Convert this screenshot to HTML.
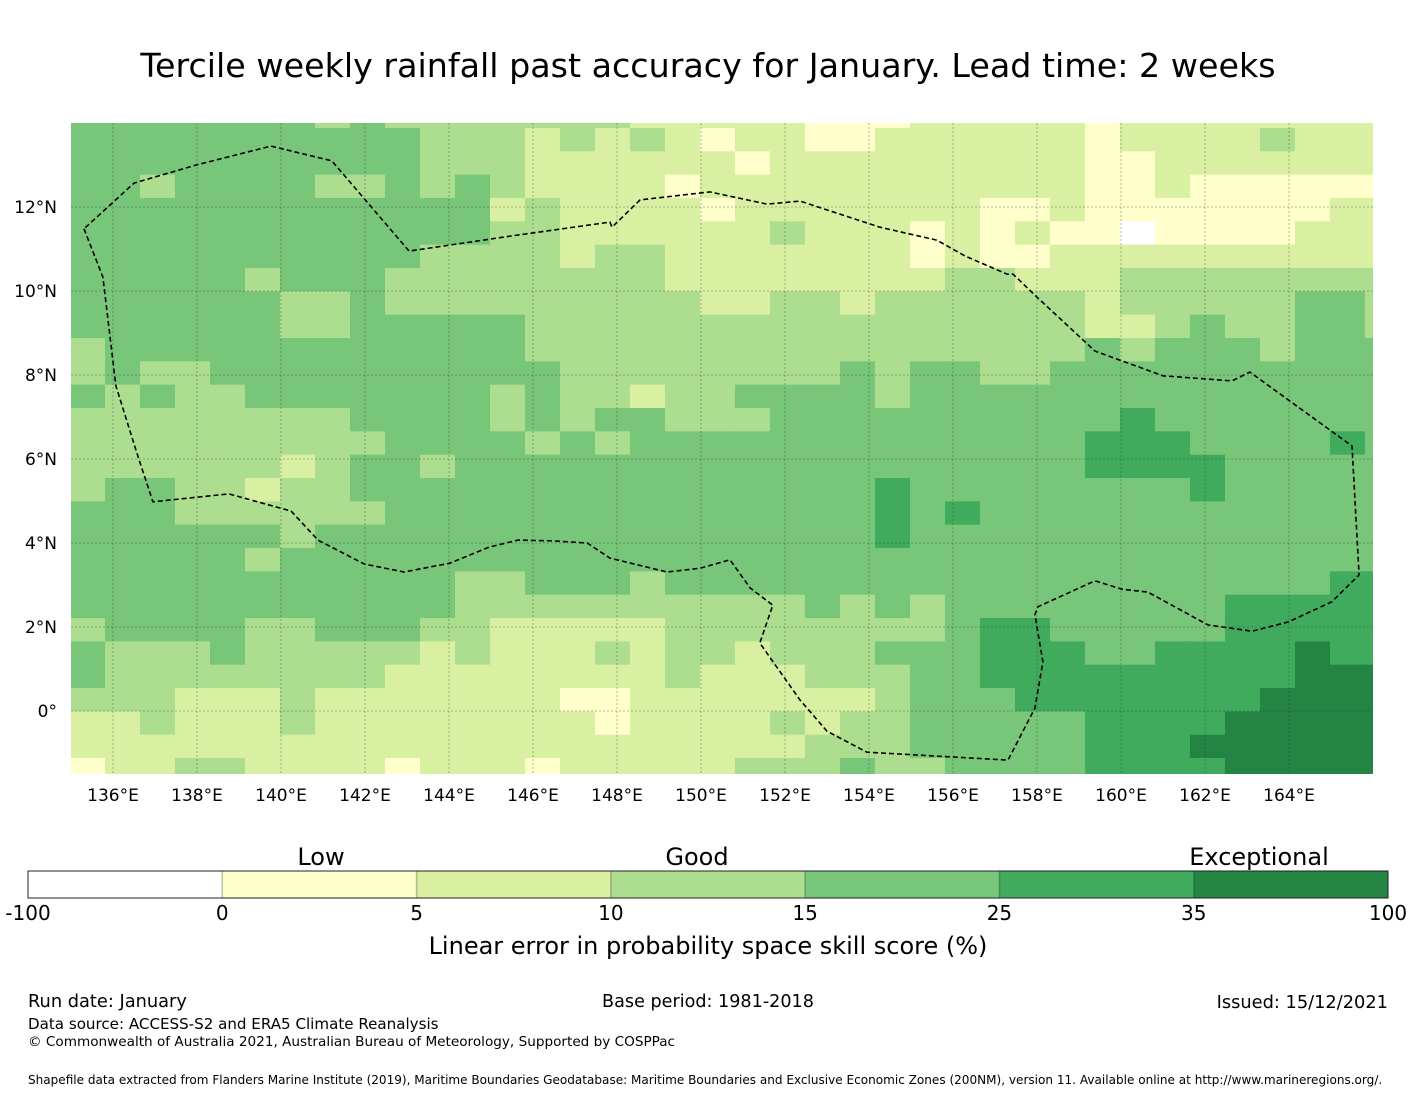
<!DOCTYPE html>
<html><head><meta charset="utf-8"><style>
html,body{margin:0;padding:0;background:#fff;}
svg{display:block;font-family:"DejaVu Sans","Liberation Sans",sans-serif;}
</style></head><body>
<svg id="chart" width="1416" height="1095" viewBox="0 0 1416 1095" xmlns="http://www.w3.org/2000/svg">
<rect width="1416" height="1095" fill="#fff"/>
<text x="708" y="77" font-size="33.3" text-anchor="middle" fill="#000">Tercile weekly rainfall past accuracy for January. Lead time: 2 weeks</text>
<defs><clipPath id="mapclip"><rect x="71" y="123" width="1302" height="651"/></clipPath></defs>
<g id="cells" clip-path="url(#mapclip)"></g>
<g id="grid" clip-path="url(#mapclip)"></g>
<g id="eez" clip-path="url(#mapclip)"></g>
<g id="xticks"></g>
<g id="yticks"></g>
<g id="cbar"></g>
<text x="321" y="865" font-size="24" text-anchor="middle">Low</text>
<text x="697" y="865" font-size="24" text-anchor="middle">Good</text>
<text x="1259" y="865" font-size="24" text-anchor="middle">Exceptional</text>
<text x="708" y="954" font-size="24" text-anchor="middle">Linear error in probability space skill score (%)</text>
<text x="28" y="1007" font-size="17.8">Run date: January</text>
<text x="708" y="1007" font-size="17.6" text-anchor="middle">Base period: 1981-2018</text>
<text x="1388" y="1008" font-size="17.8" text-anchor="end">Issued: 15/12/2021</text>
<text x="28" y="1029" font-size="15.1">Data source: ACCESS-S2 and ERA5 Climate Reanalysis</text>
<text x="28" y="1046" font-size="13.6">© Commonwealth of Australia 2021, Australian Bureau of Meteorology, Supported by COSPPac</text>
<text x="28" y="1084" font-size="12.05">Shapefile data extracted from Flanders Marine Institute (2019), Maritime Boundaries Geodatabase: Maritime Boundaries and Exclusive Economic Zones (200NM), version 11. Available online at http://www.marineregions.org/.</text>
</svg>
<script>
// skill category per grid cell (0..6), rows north->south, cols west->east
const skillRows = [
"44444443433333332222211122222122222222",
"44444444443332323212211222222122223222",
"44444444443332222221222222222112222222",
"44344443343432222122222222222112111111",
"44444444444423222212222222112111111122",
"44444444444433222222322212121101111222",
"44444444443333233222222212112222222222",
"44444344433333333222222223322233333333",
"44444433433333333322332333333233333443",
"44444433444443333333333333333223433443",
"34444444444443333333333333333434443444",
"34334444444444333333334344334444444444",
"43433444444434332334444344444444444444",
"33333333444434344333444444444454444444",
"33333333344443434444444444444555444454",
"33333323443444444444444444444555544444",
"34433233444444444444444544444444544444",
"44433333344444444444444545444444444444",
"44444434444444444444444544444444444444",
"44444344444444444444444444444444444444",
"44444444444334443444444444444444444455",
"44444444444333333333343434444444455555",
"34444334443322222333333334554444455555",
"43334333332322232332333444555445555655",
"43333333322222222322233344555555555666",
"33322232222222112222222344455555556666",
"22322232222222212222323344444555566666",
"22222222222222222222233344444555666666",
"12233222212221222223334334444555566666"];
const categoryColors = ["#ffffff","#ffffcc","#d9f0a3","#addd8e","#78c679","#41ab5d","#238443"];
const gridLon0 = 134.976, gridDLon = 0.8333, gridLat0 = 14.437, gridDLat = 0.5556;
const xTicks = [136,138,140,142,144,146,148,150,152,154,156,158,160,162,164];
const yTicks = [0,2,4,6,8,10,12];
const cbarTickLabels = ["-100","0","5","10","15","25","35","100"];
const eezLon = [135.31,135.76,136.07,136.57,136.95,138.76,140.24,140.88,141.98,142.93,144.02,144.95,145.64,146.48,147.29,147.83,149.19,149.98,150.69,151.17,151.71,151.40,152.36,153.00,153.95,157.31,157.95,158.14,157.95,158.02,159.38,160.02,160.64,162.07,163.12,163.98,165.02,165.67,165.50,163.07,162.64,161.00,159.38,157.95,157.43,157.29,156.29,155.62,154.26,152.36,151.57,150.21,148.55,147.88,147.83,145.48,143.05,141.21,139.76,137.98,136.50,135.31];
const eezLat = [11.48,10.33,7.74,6.14,4.98,5.17,4.76,4.07,3.50,3.31,3.52,3.90,4.07,4.05,4.00,3.64,3.31,3.40,3.60,2.93,2.52,1.62,0.26,-0.48,-0.98,-1.17,0.07,1.17,2.29,2.48,3.10,2.90,2.83,2.05,1.90,2.12,2.60,3.24,6.31,8.07,7.86,7.98,8.57,9.90,10.40,10.40,10.83,11.21,11.52,12.14,12.07,12.36,12.17,11.52,11.64,11.31,10.95,13.10,13.45,13.00,12.57,11.48];

const NS = "http://www.w3.org/2000/svg";
const X = lon => 71 + (lon - 135) * 42;
const Y = lat => 711 - lat * 42;
function mk(tag, attrs, parent){const e=document.createElementNS(NS,tag);for(const k in attrs)e.setAttribute(k,attrs[k]);parent.appendChild(e);return e;}

const cells = document.getElementById("cells");
skillRows.forEach((row, r) => {
  for (let c = 0; c < row.length; c++) {
    const lonA = gridLon0 + c*gridDLon, latA = gridLat0 - r*gridDLat;
    const x0 = X(lonA), x1 = X(lonA+gridDLon), y0 = Y(latA), y1 = Y(latA-gridDLat);
    const el = mk("rect",{x:x0,y:y0,width:x1-x0+0.5,height:y1-y0+0.5,fill:categoryColors[+row[c]]},cells);
    
    
  }
});

const grid = document.getElementById("grid");
xTicks.forEach(t => {
  const el = mk("line",{x1:X(t),x2:X(t),y1:123,y2:774,stroke:"#333","stroke-width":0.8,"stroke-opacity":0.45,"stroke-dasharray":"2,2"},grid);
  
  
});
yTicks.forEach(t => {
  const el = mk("line",{x1:71,x2:1373,y1:Y(t),y2:Y(t),stroke:"#333","stroke-width":0.8,"stroke-opacity":0.45,"stroke-dasharray":"2,2"},grid);
  
  
});

const eez = document.getElementById("eez");
const pts = eezLon.map((lo,i)=>X(lo).toFixed(1)+","+Y(eezLat[i]).toFixed(1)).join(" ");
const pl = mk("polyline",{points:pts,fill:"none",stroke:"#000","stroke-width":1.6,"stroke-dasharray":"5,3"},eez);



const xt = document.getElementById("xticks");
xTicks.forEach(t => {
  const el = mk("text",{x:X(t),y:801,"font-size":17,"text-anchor":"middle"},xt);
  el.textContent = t + "°E";
  
  
});
const yt = document.getElementById("yticks");
yTicks.forEach(t => {
  const el = mk("text",{x:57,y:Y(t)+6,"font-size":17,"text-anchor":"end"},yt);
  el.textContent = t === 0 ? "0°" : t + "°N";
  
  
});

const cb = document.getElementById("cbar");
const cbx0 = 28, cbx1 = 1388, seg = (cbx1-cbx0)/7;
categoryColors.forEach((col,i) => {
  const el = mk("rect",{x:cbx0+i*seg,y:871,width:seg,height:27,fill:col},cb);
  
  
  if (i>0){ const d = mk("line",{x1:cbx0+i*seg,x2:cbx0+i*seg,y1:871,y2:898,stroke:"#000","stroke-opacity":0.25,"stroke-width":1.5},cb);
    
     }
});
const frame = mk("rect",{x:cbx0,y:871,width:cbx1-cbx0,height:27,fill:"none",stroke:"#222","stroke-width":1},cb);


cbarTickLabels.forEach((lab,i) => {
  const el = mk("text",{x:cbx0+i*seg,y:920,"font-size":20,"text-anchor":"middle"},cb);
  el.textContent = lab;
  
  
});
</script>
</body></html>
